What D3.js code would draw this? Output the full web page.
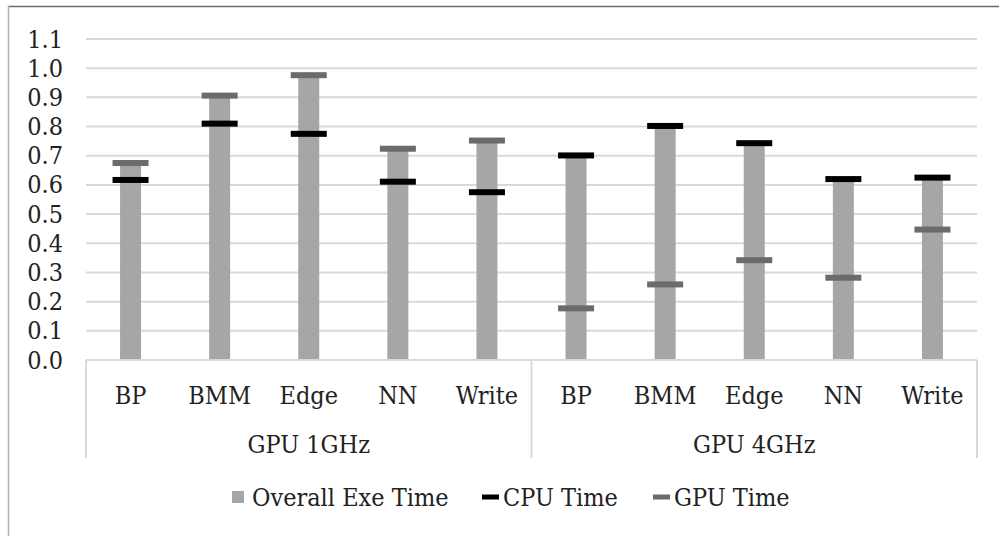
<!DOCTYPE html>
<html>
<head>
<meta charset="utf-8">
<script src="https://cdn.jsdelivr.net/npm/d3@7"></script>
<style>
  body { margin: 0; background: #fff; }
  svg text { font-stretch: condensed; }
</style>
</head>
<body>
<svg id="chart" width="999" height="536"></svg>
<script>
// data
var groups = ["GPU 1GHz", "GPU 4GHz"];
var benchmarks = ["BP", "BMM", "Edge", "NN", "Write"];
var overallTime = [0.67, 0.90, 0.97, 0.72, 0.75, 0.70, 0.80, 0.74, 0.62, 0.62];
var cpuTime = [0.617, 0.810, 0.775, 0.611, 0.575, 0.701, 0.802, 0.743, 0.620, 0.625];
var gpuTime = [0.675, 0.906, 0.976, 0.724, 0.752, 0.177, 0.259, 0.342, 0.282, 0.447];
var yTicks = [0, 0.1, 0.2, 0.3, 0.4, 0.5, 0.6, 0.7, 0.8, 0.9, 1.0, 1.1];

var FONT = "'DejaVu Serif Condensed', 'DejaVu Serif', serif";

var svg = d3.select("#chart"),
    margin = {top: 39, left: 86, right: 22, bottom: 176},
    width = 999 - margin.left - margin.right,
    height = 536 - margin.top - margin.bottom;

// outer chart border (top + left only visible)
svg.append("line").attr("x1", 8).attr("x2", 999).attr("y1", 6.5).attr("y2", 6.5)
  .attr("stroke", "#6a6a6a").attr("stroke-width", 1.5);
svg.append("line").attr("x1", 8.5).attr("x2", 8.5).attr("y1", 6).attr("y2", 536)
  .attr("stroke", "#b0b0b0").attr("stroke-width", 1.5);

var g = svg.append("g").attr("transform", "translate(" + margin.left + "," + margin.top + ")");

// one key per bar: group|benchmark
var keys = [];
groups.forEach(function(gr){ benchmarks.forEach(function(b){ keys.push(gr + "|" + b); }); });

var x = d3.scaleBand().domain(keys).range([0, width]);
var xGroup = d3.scaleBand().domain(groups).range([0, width]);
var y = d3.scaleLinear().domain([0, 1.1]).range([height, 0]);

var barW = 21, markW = 36, markH = 6;

// gridlines
g.selectAll(".grid").data(yTicks.slice(1)).enter().append("line")
  .attr("x1", 0).attr("x2", width)
  .attr("y1", function(d){ return y(d); }).attr("y2", function(d){ return y(d); })
  .attr("stroke", "#d9d9d9").attr("stroke-width", 2);

// y axis labels
var yAxis = d3.axisLeft(y).tickValues(yTicks).tickSize(0).tickPadding(23)
  .tickFormat(d3.format(".1f"));
g.append("g").call(yAxis)
  .attr("font-family", FONT).attr("font-size", 25)
  .call(function(a){ a.select(".domain").remove(); })
  .selectAll("text")
  .attr("fill", "#222");

// bars
g.selectAll(".bar").data(overallTime).enter().append("rect")
  .attr("x", function(d, i){ return x(keys[i]) + x.bandwidth() / 2 - barW / 2; })
  .attr("y", function(d){ return y(d); })
  .attr("width", barW)
  .attr("height", function(d){ return y(0) - y(d); })
  .attr("fill", "#a6a6a6");

// cpu / gpu markers
function markers(data, color) {
  g.selectAll(null).data(data).enter().append("rect")
    .attr("x", function(d, i){ return x(keys[i]) + x.bandwidth() / 2 - markW / 2; })
    .attr("y", function(d){ return y(d) - markH / 2; })
    .attr("width", markW).attr("height", markH)
    .attr("fill", color);
}
markers(gpuTime, "#6b6b6b");
markers(cpuTime, "#000");

// x axis: baseline + two-level category labels
g.append("line").attr("x1", 0).attr("x2", width).attr("y1", height).attr("y2", height)
  .attr("stroke", "#d9d9d9").attr("stroke-width", 2);
var sepX = [0, xGroup.bandwidth(), width];
g.selectAll(".sep").data(sepX).enter().append("line")
  .attr("x1", function(d){ return d; }).attr("x2", function(d){ return d; })
  .attr("y1", height).attr("y2", height + 98)
  .attr("stroke", "#d9d9d9").attr("stroke-width", 2);

g.selectAll(".cat").data(keys).enter().append("text")
  .attr("x", function(d){ return x(d) + x.bandwidth() / 2; })
  .attr("y", height + 44)
  .attr("text-anchor", "middle").attr("font-family", FONT).attr("font-size", 25).attr("fill", "#222")
  .text(function(d){ return d.split("|")[1]; });

g.selectAll(".grp").data(groups).enter().append("text")
  .attr("x", function(d){ return xGroup(d) + xGroup.bandwidth() / 2; })
  .attr("y", height + 93)
  .attr("text-anchor", "middle").attr("font-family", FONT).attr("font-size", 25).attr("fill", "#222")
  .text(function(d){ return d; });

// legend
var legend = svg.append("g").attr("transform", "translate(0,497)");
var items = [
  {label: "Overall Exe Time", type: "box", color: "#a6a6a6", x: 232},
  {label: "CPU Time", type: "dash", color: "#000", x: 482},
  {label: "GPU Time", type: "dash", color: "#6b6b6b", x: 653}
];
items.forEach(function(it){
  if (it.type == "box") {
    legend.append("rect").attr("x", it.x).attr("y", -6).attr("width", 12).attr("height", 12).attr("fill", it.color);
  } else {
    legend.append("rect").attr("x", it.x).attr("y", -2.5).attr("width", 17).attr("height", 5).attr("fill", it.color);
  }
  legend.append("text").attr("x", it.x + (it.type == "box" ? 20 : 21)).attr("y", 9)
    .attr("font-family", FONT).attr("font-size", 25).attr("fill", "#222").text(it.label);
});
</script>
</body>
</html>
